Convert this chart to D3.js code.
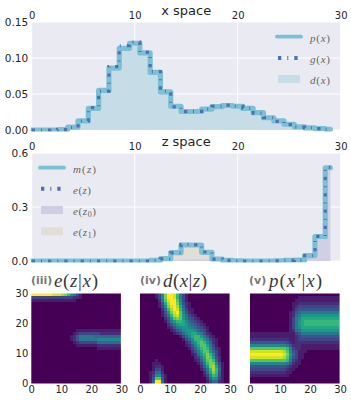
<!DOCTYPE html>
<html><head><meta charset="utf-8">
<script src="https://cdn.jsdelivr.net/npm/d3@7"></script>
<style>
html,body{margin:0;padding:0;background:#fff;overflow:hidden}
svg{display:block}
text{font-family:"DejaVu Sans",sans-serif;fill:#262626}
.m{font-family:"Liberation Serif",serif}
</style></head><body>
<svg id="c" width="351" height="400"></svg>
<script>
const bins = d3.range(30);
const xTicks = [0,10,20,30];
const pTicks = [0,0.05,0.10,0.15];
const zTicks = [0,0.3,0.6];
const heatTicks = [0,10,20,30];
const px = [0,0,0,0.0005,0.004,0.0126,0.03,0.055,0.086,0.1135,0.1205,0.107,0.08,0.053,0.033,0.0257,0.0257,0.029,0.0324,0.034,0.033,0.03,0.024,0.017,0.0126,0.008,0.0045,0.003,0.002,0.001];
const gx = [0,0,0,0.0006,0.0035,0.0125,0.031,0.054,0.088,0.117,0.122,0.108,0.081,0.054,0.032,0.0255,0.026,0.029,0.033,0.0345,0.033,0.0305,0.0235,0.017,0.012,0.0075,0.004,0.003,0.002,0.0008];
const dx = [0,0,0,0.0005,0.004,0.0125,0.03,0.055,0.087,0.114,0.121,0.107,0.08,0.053,0.033,0.0257,0.0257,0.029,0.0325,0.034,0.033,0.03,0.024,0.017,0.0125,0.008,0.0045,0.003,0.002,0.001];
const mz = [0,0,0,0,0,0,0,0,0,0,0,0,0.004,0.013,0.046,0.089,0.089,0.048,0.011,0.004,0.001,0,0,0,0.001,0.003,0.005,0.03,0.135,0.518];
const ez = [0,0,0,0,0,0,0,0,0,0,0,0,0.003,0.012,0.045,0.092,0.09,0.05,0.01,0.003,0.001,0,0,0,0.001,0.003,0.005,0.03,0.137,0.52];
const ez0 = [0,0,0,0,0,0,0,0,0,0,0,0,0,0.001,0.004,0.008,0.01,0.008,0.003,0.001,0,0,0,0,0.001,0.002,0.005,0.028,0.12,0.518];
const ez1 = [0,0,0,0,0,0,0,0,0,0,0,0,0.003,0.012,0.04,0.08,0.08,0.04,0.008,0.002,0,0,0,0,0,0,0,0,0,0];

const Z = "00000 00000 00000 00000 00000 00000";
// rows listed top (z=29) to bottom (z=0); one hex digit per cell, f = brightest
const heatEzx = [
"fffff ffeee dca86 31000 00000 00000","33333 33333 33332 21000 00000 00000","11111 11111 11111 00000 00000 00000",
Z,Z,Z,Z,Z,Z,Z,Z,Z,
"00000 00000 00000 11111 11111 11111","00000 00000 00001 23333 33322 22222","00000 00000 00012 46666 65555 55555",
"00000 00000 00012 46666 66777 77777","00000 00000 00001 23333 33555 55555","00000 00000 00000 11111 11222 22222",
"00000 00000 00000 00000 00111 11111",Z,Z,Z,Z,Z,Z,Z,Z,Z,Z,Z];
const heatDxz = [
"00000 137cf fea63 10000 00000 00000","00000 137cf fea63 10000 00000 00000","00000 026be ffb73 10000 00000 00000",
"00000 0149d ffc84 21000 00000 00000","00000 0137c efd95 21000 00000 00000","00000 0025a dfea6 31100 00000 00000",
"00000 00148 cefb7 42100 00000 00000","00000 00136 adeb8 53210 00000 00000","00000 00024 8bcb8 64321 00000 00000",
"00000 00013 68aa9 75432 10000 00000","00000 00002 46899 86543 21000 00000","00000 00001 24678 87654 32100 00000",
"00000 00000 12457 88875 43100 00000","00000 00000 01235 78997 64210 00000","00000 00000 00013 579aa 86421 00000",
"00000 00000 00001 357aa a8632 10000","00000 00000 00000 2368a ba752 10000","00000 00000 00000 12479 bb963 10000",
"00000 00000 00000 01358 aba74 21000","00000 00000 00000 00246 9bb85 31000","00000 00000 00000 00125 8aca7 31000",
"00000 00000 00000 00023 69cb8 42000","00000 10000 00000 00012 58bca 52000","00001 11000 00000 00001 36acc 73100",
"00001 22100 00000 00000 258cd 94100","00001 33100 00000 00000 136ad a5100","00012 55200 00000 00000 0259c a4100",
"00013 77310 00000 00000 0137a 94100","00014 bb410 00000 00000 00258 73100","00015 ff510 00000 00000 00135 52100"];
const heatPxx = [
Z,"00000 00000 00000 01111 11111 11111","00000 00000 00000 11111 11111 11111",
"00000 00000 00001 12222 22222 22222","00000 00000 00001 23333 33333 33333","00000 00000 00001 34444 44444 44444",
"00000 00000 00012 45666 66666 66666","00000 00000 00012 56888 88888 88888","00000 00000 00013 67999 99999 99999",
"00000 00000 00013 689aa aaaaa aaaaa","00000 00000 00013 689aa aaaaa aaaaa","00000 00000 00013 67999 99999 99999",
"00000 00000 00012 56888 88888 88888","11111 11111 11111 34666 66666 66666","11111 11111 11111 23444 44444 44444",
"22222 22222 22211 23333 33333 33333","44444 44444 44321 22222 22222 22222","77777 77777 77642 22111 11111 11111",
"bbbbb bbbbb bba63 22111 11111 11111","eeeee eeeee edb74 31110 00000 00000","fffff fffff fec85 31100 00000 00000",
"eeeee eeeee edb74 31100 00000 00000","bbbbb bbbbb bba63 21000 00000 00000","77777 77777 77642 11000 00000 00000",
"44444 44444 44321 10000 00000 00000","33333 33333 33211 00000 00000 00000","22222 22222 22110 00000 00000 00000",
"11111 11111 11100 00000 00000 00000",Z,Z];

const svg = d3.select("#c");
const defs = svg.append("defs");
defs.append("filter").attr("id","soft").attr("x","-5%").attr("y","-5%").attr("width","110%").attr("height","110%")
  .append("feGaussianBlur").attr("stdDeviation",0.7);

const C = {p:"#7dc0d6", g:"#4c72b0", d:"#c6dde8", z0:"#cfcde4", z1:"#e1ded7", bg:"#eaeaf2", txt:"#262626", leg:"#666"};
const x = d3.scaleLinear().domain([0,30]).range([31.7,340.7]);

function panel(id, y, ticks, fmt, title, titleY){
  const [yb,yt] = y.range();
  const g = svg.append("g");
  g.append("rect").attr("x",x(0)).attr("y",yt).attr("width",x(30)-x(0)).attr("height",yb-yt).attr("fill",C.bg);
  g.append("g").selectAll("line").data(ticks).join("line")
    .attr("x1",x(0)).attr("x2",x(30)).attr("y1",d=>y(d)).attr("y2",d=>y(d)).attr("stroke","#fff").attr("stroke-width",1);
  g.append("g").selectAll("line").data(xTicks).join("line")
    .attr("x1",d=>x(d)).attr("x2",d=>x(d)).attr("y1",yb).attr("y2",yt).attr("stroke","#fff").attr("stroke-width",1);
  defs.append("clipPath").attr("id",id).append("rect").attr("x",x(0)-1).attr("y",yt).attr("width",x(30)-x(0)+2).attr("height",yb-yt+1.5);
  const yAxis = d3.axisLeft(y).tickValues(ticks).tickSize(0).tickPadding(3.5).tickFormat(fmt);
  const ax = g.append("g").attr("transform",`translate(${x(0)},0)`).call(yAxis);
  ax.select(".domain").remove();
  ax.selectAll("text").style("font-size","10.5px").attr("fill",C.txt);
  const tAxis = d3.axisTop(x).tickValues(xTicks).tickSize(0).tickPadding(3).tickFormat(d3.format("d"));
  const at = g.append("g").attr("transform",`translate(0,${yt})`).call(tAxis);
  at.select(".domain").remove();
  at.selectAll("text").style("font-size","10px").attr("fill",C.txt);
  g.append("text").attr("x",186.2).attr("y",titleY).attr("text-anchor","middle").style("font-size","13px").text(title);
  return g.append("g").attr("clip-path",`url(#${id})`);
}

function area(y){return d3.area().x((d,i)=>x(i)).y0(y(0)).y1(d=>y(d)).curve(d3.curveStep);}
function line(y){return d3.line().x((d,i)=>x(i)).y(d=>y(d)).curve(d3.curveStep);}
const DASH = "3.3,6,1,6";
function drawP(g,y,vals){g.append("path").attr("d",line(y)(vals)).attr("fill","none").attr("stroke",C.p).attr("stroke-width",5.2).attr("stroke-linecap","round").attr("stroke-linejoin","round");}
function drawG(g,y,vals){g.append("path").attr("d",line(y)(vals)).attr("fill","none").attr("stroke",C.g).attr("stroke-width",3.2).attr("stroke-dasharray",DASH);}

// x space
const y1 = d3.scaleLinear().domain([0,0.15]).range([130,22]);
const g1 = panel("c1",y1,pTicks,d3.format(".2f"),"x space",15);
g1.append("path").attr("d",area(y1)(dx)).attr("fill",C.d);
drawP(g1,y1,px); drawG(g1,y1,gx);

// z space
const y2 = d3.scaleLinear().domain([0,0.6]).range([261,153]);
const g2 = panel("c2",y2,zTicks,d3.format(".1f"),"z space",146);
g2.append("path").attr("d",area(y2)(ez1)).attr("fill",C.z1);
g2.append("path").attr("d",area(y2)(ez0)).attr("fill",C.z0).attr("fill-opacity",0.95);
drawP(g2,y2,mz); drawG(g2,y2,ez);

// math text helper: parts = [text, italic?, sub?]
function math(parent,xp,yp,size,parts,fill,len){
  const t = parent.append("text").attr("class","m").attr("x",xp).attr("y",yp).style("font-size",size+"px").style("fill",fill);
  if(len) t.attr("textLength",len).attr("lengthAdjust","spacing");
  parts.forEach(p=>{
    const s = t.append("tspan").text(p[0]).style("font-style",p[1]?"italic":"normal").style("fill",fill);
    if(p[2]) s.style("font-size",(size*0.72)+"px").attr("dy",2);
    if(p[3]) s.attr("dy",-2);
  });
  return t;
}
const L = s=>[[s[0],1],["(",0],[s[1],1],[")",0]];
function legLine(xa,xb,yy){svg.append("line").attr("x1",xa).attr("x2",xb).attr("y1",yy).attr("y2",yy).attr("stroke",C.p).attr("stroke-width",3.8).attr("stroke-linecap","round");}
function legDash(xa,xb,yy){svg.append("line").attr("x1",xa).attr("x2",xb).attr("y1",yy).attr("y2",yy).attr("stroke",C.g).attr("stroke-width",4).attr("stroke-dasharray",DASH);}
function legPatch(xa,yy,col){svg.append("rect").attr("x",xa).attr("y",yy).attr("width",22).attr("height",8).attr("fill",col);}

legLine(277,301,36.7); math(svg,310,42,11,L("px"),C.leg,20);
legDash(278,298,58);   math(svg,310,63,11,L("gx"),C.leg,20);
legPatch(278,75,C.d);  math(svg,310,83.5,11,L("dx"),C.leg,20);

legLine(40,64,167.7);  math(svg,73,173,11,L("mz"),C.leg,23);
legDash(41,61,188.7);  math(svg,73,194,11,L("ez"),C.leg,18);
legPatch(41,206,C.z0); math(svg,73,215,11,[["e",1],["(",0],["z",1],["0",0,1],[")",0,0,1]],C.leg,23);
legPatch(41,227.3,C.z1); math(svg,73,236,11,[["e",1],["(",0],["z",1],["1",0,1],[")",0,0,1]],C.leg,23);

// heatmaps
function heat(id,x0,rows,showY,label,labX,parts,mathX,mathLen){
  const hx = d3.scaleBand().domain(bins).range([x0,x0+90]);
  const hy = d3.scaleBand().domain(bins).range([293.4,383.4]);
  const col = d3.scaleSequential(d3.interpolateViridis).domain([0,15]);
  const tx = d3.scaleLinear().domain([0,30]).range([x0,x0+90]);
  const ty = d3.scaleLinear().domain([0,30]).range([383.4,293.4]);
  defs.append("clipPath").attr("id",id).append("rect").attr("x",x0).attr("y",293.4).attr("width",89.6).attr("height",90);
  const outer = svg.append("g").attr("clip-path",`url(#${id})`);
  const g = outer.append("g").attr("filter","url(#soft)").attr("shape-rendering","crispEdges");
  rows.forEach((r,ri)=>{
    const cells = Array.from(r.replace(/ /g,"")).map(c=>parseInt(c,16));
    g.selectAll(null).data(cells).join("rect")
      .attr("x",(d,i)=>hx(i)).attr("y",hy(ri)).attr("width",hx.bandwidth()+0.5).attr("height",hy.bandwidth()+0.5)
      .attr("fill",d=>col(d));
  });
  const ax = svg.append("g").attr("transform","translate(0,383.4)").call(d3.axisBottom(tx).tickValues(heatTicks).tickSize(0).tickPadding(3).tickFormat(d3.format("d")));
  ax.select(".domain").remove(); ax.selectAll("text").style("font-size","10px");
  if(showY){
    const ay = svg.append("g").attr("transform",`translate(${x0},0)`).call(d3.axisLeft(ty).tickValues(heatTicks).tickSize(0).tickPadding(3).tickFormat(d3.format("d")));
    ay.select(".domain").remove(); ay.selectAll("text").style("font-size","10px");
  }
  svg.append("text").attr("x",labX).attr("y",284).style("font-size","11px").style("font-weight","bold").style("fill","#777").text(label);
  math(svg,mathX,287,19,parts,"#3a3a3a",mathLen);
}
heat("h1",31.3,heatEzx,true,"(iii)",31,[["e",1],["(",0],["z",1],["|",0],["x",1],[")",0]],54,44);
heat("h2",140,heatDxz,false,"(iv)",140,[["d",1],["(",0],["x",1],["|",0],["z",1],[")",0]],163,44);
heat("h3",250,heatPxx,false,"(v)",249,[["p",1],["(",0],["x′",1],["|",0],["x",1],[")",0]],269,53);
</script>
</body></html>
